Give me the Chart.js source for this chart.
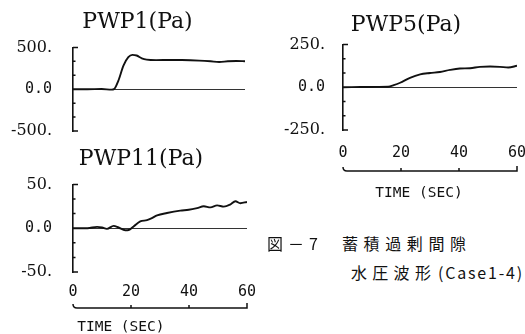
<!DOCTYPE html>
<html>
<head>
<meta charset="utf-8">
<script src="https://cdn.jsdelivr.net/npm/chart.js@4.4.1/dist/chart.umd.min.js"></script>
<style>
  html, body { margin: 0; padding: 0; background: #fff; width: 525px; height: 334px; overflow: hidden; }
  canvas { position: absolute; }
  .cap { position: absolute; font-family: "Noto Sans CJK JP"; font-size: 16px; line-height: 20px; color: #111; white-space: nowrap; }
</style>
</head>
<body>
<canvas id="pwp1" width="275" height="143" style="left:0;top:0"></canvas>
<canvas id="pwp5" width="262" height="205" style="left:270px;top:0"></canvas>
<canvas id="pwp11" width="267" height="194" style="left:0;top:140px"></canvas>

<div class="cap" style="left:267px;top:233px;letter-spacing:5px">図－7</div>
<div class="cap" style="left:342px;top:233px;letter-spacing:5.6px">蓄積過剰間隙</div>
<div class="cap" style="left:351px;top:262px;letter-spacing:5.3px">水圧波形</div>
<div class="cap" style="left:438px;top:262px;letter-spacing:1.8px">(Case1-4)</div>

<script>
// time axis (sec)
const timeTicks = [0, 20, 40, 60];

// PWP1 (Pa)
const pwp1Time = [0, 5, 10, 13.5, 14.3, 15.8, 17.6, 19.3, 20.7, 22.2, 24, 25.7, 29, 34, 38, 44, 48, 51, 54, 57, 60];
const pwp1Val  = [0, 0, 2, -5, 0, 100, 282, 383, 411, 403, 370, 354, 348, 350, 349, 342, 334, 326, 334, 338, 334];
const pwp1Ticks = [-500, 0, 500];

// PWP5 (Pa)
const pwp5Time = [0, 6, 12, 15.6, 17.5, 19.7, 23.1, 26.6, 30, 33.4, 36.9, 40.3, 43.8, 47.2, 50.7, 54.1, 57, 60];
const pwp5Val  = [0, 1, 2, 3, 12, 26, 55, 75, 83, 89, 101, 109, 111, 119, 121, 119, 115, 125];
const pwp5Ticks = [-250, 0, 250];

// PWP11 (Pa)
const pwp11Time = [0, 5, 8.3, 10, 11.7, 14, 15.7, 18, 19.2, 20.9, 23.2, 25.5, 27.2, 29, 32.4, 37, 39.9, 42.8, 45.1, 47.4, 49.7, 52, 54.2, 56, 57.7, 60];
const pwp11Val  = [0, 0, 1.5, 0.8, -0.8, 2.7, 0.8, -2.3, -2, 2, 7.7, 9.2, 11.5, 14.6, 17.3, 20, 21, 23, 25, 23.8, 26, 24.6, 27, 30.8, 28.5, 30];
const pwp11Ticks = [-50, 0, 50];

const INK = '#111';
const NONE = 'rgba(0,0,0,0)';

// bracket-style axes: end serifs and minor marks on the pressure axis,
// plus a detached time axis line under the tick numbers
const bracketAxes = {
  id: 'bracketAxes',
  afterDraw(chart, args, opts) {
    const { ctx, chartArea: a, scales: { x, y } } = chart;
    ctx.save();
    ctx.strokeStyle = INK;
    ctx.lineWidth = 1.5;
    ctx.beginPath();
    ctx.moveTo(a.left, a.top); ctx.lineTo(a.left + 5, a.top);
    ctx.moveTo(a.left, a.bottom); ctx.lineTo(a.left + 5, a.bottom);
    for (let k = 1; k < 6; k++) {
      if (k === 3) continue;
      const py = y.getPixelForValue(y.min + k * (y.max - y.min) / 6);
      ctx.moveTo(a.left, py); ctx.lineTo(a.left + 2.5, py);
    }
    ctx.stroke();

    if (opts.timeAxis) {
      const ly = a.bottom + opts.lineGap;
      const x0 = x.getPixelForValue(x.min);
      const x1 = x.getPixelForValue(x.max);
      ctx.beginPath();
      ctx.moveTo(x0, ly - 4);
      ctx.quadraticCurveTo(x0, ly, x0 + 4, ly);
      ctx.lineTo(x1, ly);
      ctx.lineTo(x1, ly - 5);
      x.ticks.forEach(t => {
        if (t.value > x.min && t.value < x.max) {
          const px = x.getPixelForValue(t.value);
          ctx.moveTo(px, ly); ctx.lineTo(px, ly - 3);
        }
      });
      ctx.stroke();
      ctx.fillStyle = INK;
      ctx.font = '14.5px "DejaVu Sans Mono"';
      ctx.textAlign = 'center';
      ctx.textBaseline = 'middle';
      ctx.fillText('TIME (SEC)', x.getPixelForValue(opts.labelAt), ly + opts.labelGap);
    }
    ctx.restore();
  }
};

function pressureChart(id, title, times, values, yTicks, lay) {
  const yMax = yTicks[yTicks.length - 1];
  return new Chart(document.getElementById(id), {
    type: 'line',
    data: {
      datasets: [{
        data: times.map((t, i) => ({ x: t, y: values[i] })),
        borderColor: INK,
        borderWidth: 1.9,
        pointRadius: 0,
        tension: 0.4,
        cubicInterpolationMode: 'monotone',
        fill: false
      }]
    },
    options: {
      responsive: false,
      animation: false,
      events: [],
      layout: { padding: { left: lay.padLeft, right: 0, top: 0, bottom: lay.padBottom } },
      plugins: {
        legend: { display: false },
        tooltip: { enabled: false },
        title: {
          display: true,
          text: title,
          color: INK,
          font: { family: 'DejaVu Serif', size: 22, weight: 'normal' },
          padding: lay.titlePad
        },
        bracketAxes: {
          timeAxis: lay.timeAxis,
          lineGap: lay.lineGap,
          labelGap: lay.labelGap,
          labelAt: lay.labelAt
        }
      },
      scales: {
        x: {
          type: 'linear',
          min: 0,
          max: 60,
          display: lay.timeAxis,
          afterBuildTicks: s => { s.ticks = timeTicks.map(v => ({ value: v })); },
          afterFit: s => { if (lay.timeAxis) s.height = lay.xH; },
          grid: { drawOnChartArea: false, drawTicks: true, tickLength: lay.xGap, color: NONE, tickColor: NONE },
          border: { display: false },
          ticks: { padding: 0, maxRotation: 0, color: INK, font: { family: 'DejaVu Sans Mono', size: 15 } }
        },
        y: {
          min: -yMax,
          max: yMax,
          afterBuildTicks: s => { s.ticks = yTicks.map(v => ({ value: v })); },
          afterFit: s => { s.width = lay.yW; },
          grid: {
            drawTicks: true,
            tickLength: lay.yGap,
            tickColor: NONE,
            lineWidth: 1,
            color: c => (c.tick && c.tick.value === 0) ? '#333' : NONE
          },
          border: { display: true, color: INK, width: 1.6 },
          ticks: {
            padding: 0,
            color: INK,
            callback: v => v === 0 ? '0.0' : v + '.',
            font: c => (c.tick && c.tick.value === 0)
              ? { family: 'DejaVu Sans Mono', size: 15 }
              : { family: 'DejaVu Serif', size: 16 }
          }
        },
        // empty right-hand margin so the title centres over the plot as printed
        margin: {
          position: 'right',
          display: true,
          afterFit: s => { s.width = lay.rightMargin; },
          grid: { display: false },
          border: { display: false },
          ticks: { display: false }
        }
      }
    },
    plugins: [bracketAxes]
  });
}

pressureChart('pwp1', 'PWP1(Pa)', pwp1Time, pwp1Val, pwp1Ticks, {
  padLeft: 0, padBottom: 12, rightMargin: 30,
  titlePad: { top: 9, bottom: 12 },
  yW: 73, yGap: 21,
  timeAxis: false
});

pressureChart('pwp5', 'PWP5(Pa)', pwp5Time, pwp5Val, pwp5Ticks, {
  padLeft: 10, padBottom: 40, rightMargin: 15,
  titlePad: { top: 12, bottom: 6 },
  yW: 63, yGap: 18,
  timeAxis: true, xH: 35, xGap: 14,
  lineGap: 41, labelGap: 22, labelAt: 26.2
});

pressureChart('pwp11', 'PWP11(Pa)', pwp11Time, pwp11Val, pwp11Ticks, {
  padLeft: 15, padBottom: 30, rightMargin: 20,
  titlePad: { top: 6, bottom: 12 },
  yW: 58, yGap: 21,
  timeAxis: true, xH: 32, xGap: 11,
  lineGap: 36, labelGap: 19, labelAt: 16.5
});
</script>
</body>
</html>
